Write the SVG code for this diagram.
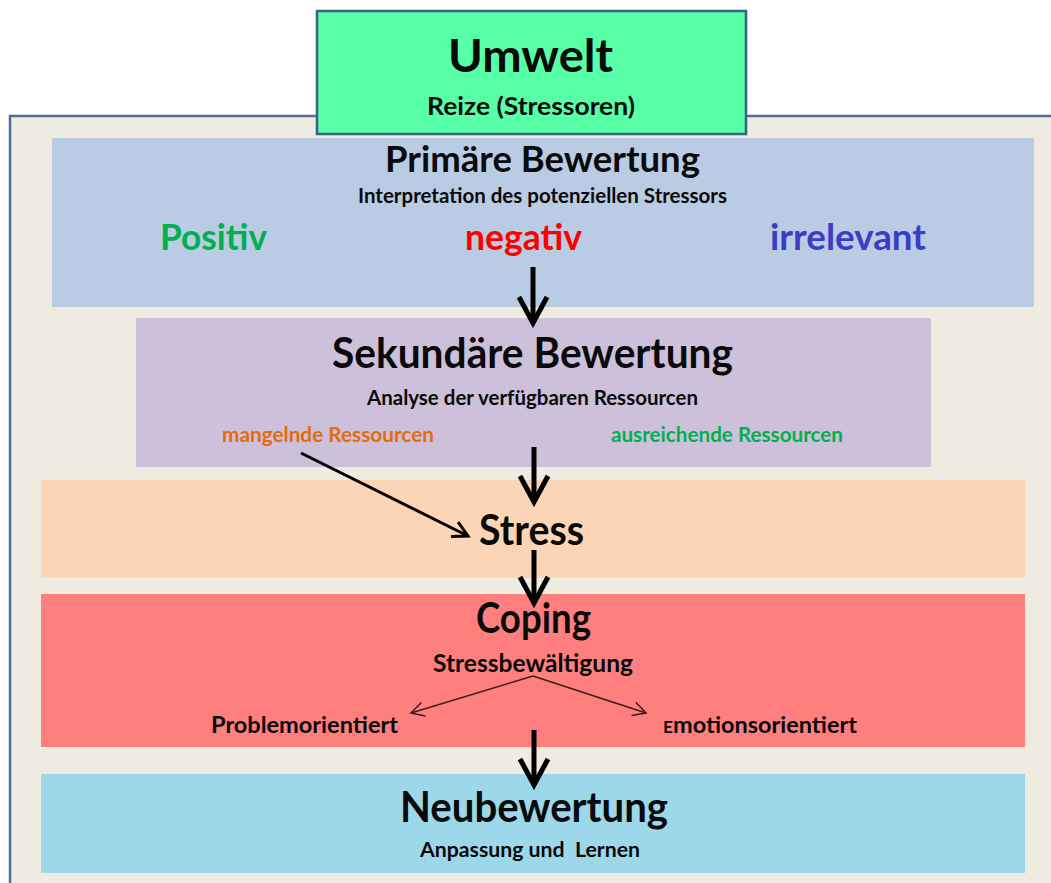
<svg xmlns="http://www.w3.org/2000/svg" width="1051" height="883" viewBox="0 0 1051 883">
<style>
text{font-family:Lato,"Open Sans","Liberation Sans",sans-serif;font-weight:bold;fill:#0a0a0a;white-space:pre}
.c{text-anchor:middle}
.band{stroke:none}
.big{font-size:42px}
.mid{font-size:25px}
.sm{font-size:21px}
.sel{font-size:36px}
.thick{stroke:#000;stroke-width:5;fill:none}
.diag{stroke:#000;stroke-width:3;fill:none}
.thin{stroke:#3a1c1c;stroke-width:1.5;fill:none}
</style>
<defs>
<marker id="hThick" markerUnits="userSpaceOnUse" orient="auto" overflow="visible" markerWidth="1" markerHeight="1" refX="0" refY="0">
<path d="M-26,-14 L0,0 L-26,14" fill="none" stroke="#000" stroke-width="5" stroke-linejoin="miter"/>
</marker>
<marker id="hDiag" markerUnits="userSpaceOnUse" orient="auto" overflow="visible" markerWidth="1" markerHeight="1" refX="0" refY="0">
<path d="M-15,-8 L0,0 L-15,8" fill="none" stroke="#000" stroke-width="3"/>
</marker>
<marker id="hThin" markerUnits="userSpaceOnUse" orient="auto" overflow="visible" markerWidth="1" markerHeight="1" refX="0" refY="0">
<path d="M-13,-7 L0,0 L-13,7" fill="none" stroke="#3a1c1c" stroke-width="1.5"/>
</marker>
</defs>

<rect width="1051" height="883" fill="#ffffff"/>

<g id="frame">
<rect x="10" y="116" width="1100" height="800" fill="#EEEBE1" stroke="#4F6E9C" stroke-width="2.5"/>
</g>

<g id="node-primaer">
<rect class="band" x="52" y="138" width="982" height="169" fill="#B9CCE4"/>
<text class="c" x="542.5" y="172" font-size="36" textLength="315" lengthAdjust="spacingAndGlyphs">Primäre Bewertung</text>
<text class="c sm" x="542.5" y="203" textLength="369" lengthAdjust="spacingAndGlyphs">Interpretation des potenziellen Stressors</text>
<text class="sel" x="160" y="250" style="fill:#00B050" textLength="107" lengthAdjust="spacingAndGlyphs">Positiv</text>
<text class="c sel" x="523.5" y="250" style="fill:#FF0000" textLength="117" lengthAdjust="spacingAndGlyphs">negativ</text>
<text class="sel" x="770" y="250" style="fill:#3C3CC6" textLength="156" lengthAdjust="spacingAndGlyphs">irrelevant</text>
</g>

<g id="node-umwelt">
<rect x="317" y="11" width="429" height="123" fill="#57FFA6" stroke="#3C5F8C" stroke-width="2.5"/>
<text class="c" x="530.5" y="72" font-size="45" textLength="165" lengthAdjust="spacingAndGlyphs">Umwelt</text>
<text class="c mid" x="531" y="115" textLength="208" lengthAdjust="spacingAndGlyphs">Reize (Stressoren)</text>
</g>

<g id="node-sekundaer">
<rect class="band" x="136" y="318" width="795" height="149" fill="#CCC0DA"/>
<text class="c big" x="532.5" y="368" textLength="401" lengthAdjust="spacingAndGlyphs">Sekundäre Bewertung</text>
<text class="c sm" x="532.5" y="405" textLength="331" lengthAdjust="spacingAndGlyphs">Analyse der verfügbaren Ressourcen</text>
<text class="sm" x="222" y="442" style="fill:#E46C0A" textLength="212" lengthAdjust="spacingAndGlyphs">mangelnde Ressourcen</text>
<text class="sm" x="611" y="442" style="fill:#00B050" textLength="232" lengthAdjust="spacingAndGlyphs">ausreichende Ressourcen</text>
</g>

<g id="node-stress">
<rect class="band" x="41" y="480" width="984" height="98" fill="#FBD5B5"/>
<text class="c big" x="531.5" y="545" textLength="105" lengthAdjust="spacingAndGlyphs">Stress</text>
</g>

<g id="node-coping">
<rect class="band" x="41" y="594" width="984" height="153" fill="#FF7F7F"/>
<text class="c big" x="533.5" y="633" textLength="115" lengthAdjust="spacingAndGlyphs">Coping</text>
<text class="c mid" x="533" y="672" textLength="200" lengthAdjust="spacingAndGlyphs">Stressbewältigung</text>
<text x="211" y="733" font-size="23" textLength="187" lengthAdjust="spacingAndGlyphs">Problemorientiert</text>
<text x="663" y="733" font-size="23" textLength="194" lengthAdjust="spacingAndGlyphs"><tspan font-size="17">E</tspan>motionsorientiert</text>
</g>

<g id="node-neubewertung">
<rect class="band" x="41" y="774" width="984" height="99" fill="#9CD8EA"/>
<text class="c big" x="534" y="822" textLength="268" lengthAdjust="spacingAndGlyphs">Neubewertung</text>
<text class="c" x="530" y="857" font-size="21" textLength="220" lengthAdjust="spacingAndGlyphs">Anpassung und  Lernen</text>
</g>

<g id="connectors">
<line class="thick" x1="533" y1="267" x2="533" y2="323" marker-end="url(#hThick)"/>
<line class="thick" x1="534" y1="447" x2="534" y2="502" marker-end="url(#hThick)"/>
<line class="thick" x1="534" y1="550" x2="534" y2="603" marker-end="url(#hThick)"/>
<line class="thick" x1="534" y1="730" x2="534" y2="785" marker-end="url(#hThick)"/>
<line class="diag" x1="301" y1="453" x2="468" y2="536" marker-end="url(#hDiag)"/>
<line class="thin" x1="533" y1="676" x2="411" y2="713" marker-end="url(#hThin)"/>
<line class="thin" x1="533" y1="676" x2="646" y2="713" marker-end="url(#hThin)"/>
</g>
</svg>
